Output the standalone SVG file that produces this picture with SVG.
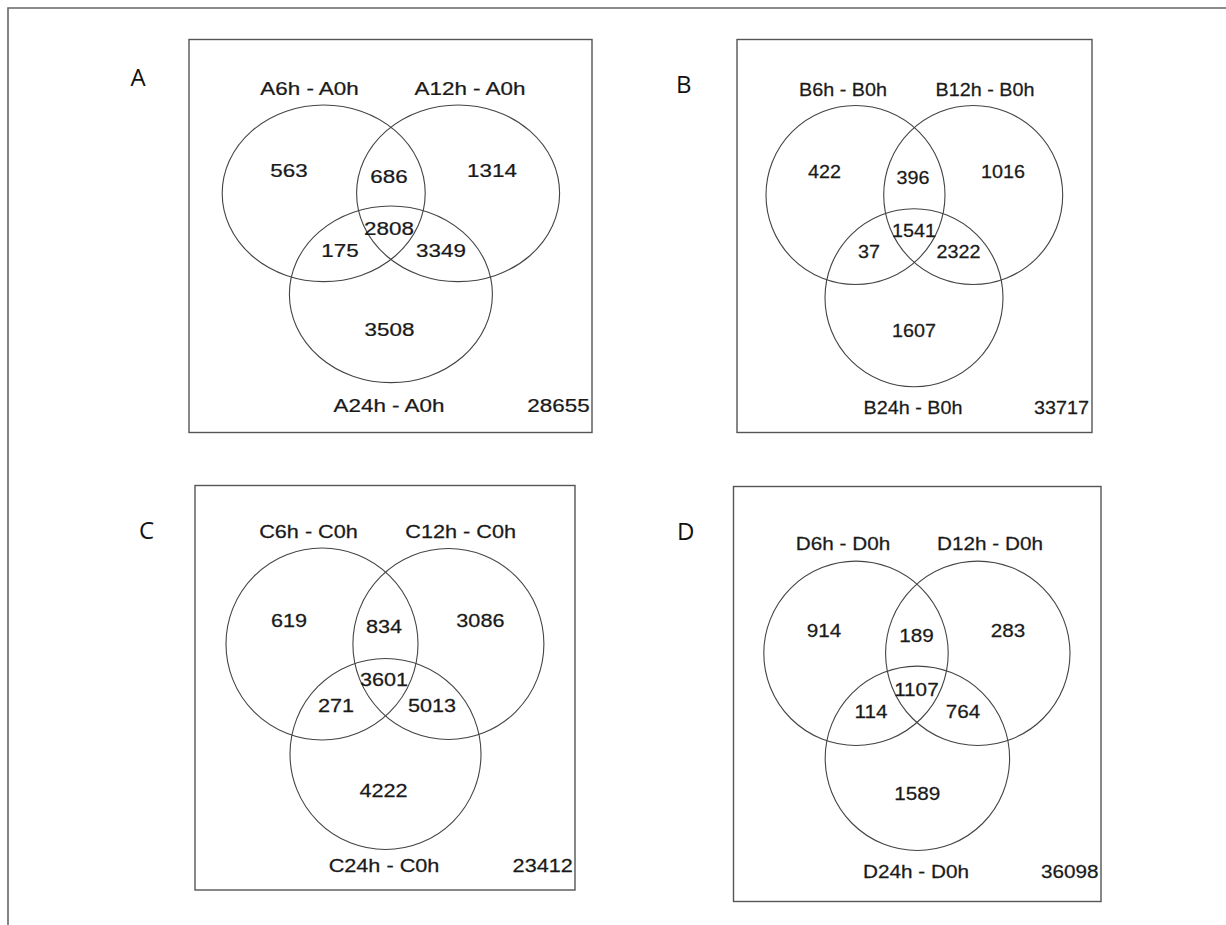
<svg xmlns="http://www.w3.org/2000/svg" width="1226" height="925" viewBox="0 0 1226 925">
<style>
.frame{fill:none;stroke:#666;stroke-width:1.6}
.box{fill:none;stroke:#555;stroke-width:1.4}
.c{fill:none;stroke:#444;stroke-width:1.1}
.t{font-family:"Liberation Sans",Arial,Helvetica,sans-serif;font-size:19px;fill:#1a1a1a;stroke:#1a1a1a;stroke-width:0.25;text-anchor:middle}
.L{font-family:"Open Sans","Noto Sans",sans-serif;font-size:24px;fill:#111}
</style>
<rect width="1226" height="925" fill="#fff"/>
<path class="frame" d="M8,925 V8 H1226"/>

<g id="panelA">
<rect class="box" x="189" y="39.5" width="403" height="393"/>
<text class="L" x="130.5" y="86">A</text>
<ellipse class="c" cx="323.7" cy="193.3" rx="101.5" ry="88.3"/>
<ellipse class="c" cx="458.1" cy="193.3" rx="101.5" ry="88.3"/>
<ellipse class="c" cx="390.9" cy="294.3" rx="101.5" ry="88.3"/>
<text class="t" transform="translate(309.5,95) scale(1.18,1)">A6h - A0h</text>
<text class="t" transform="translate(470,95) scale(1.18,1)">A12h - A0h</text>
<text class="t" transform="translate(289,177) scale(1.18,1)">563</text>
<text class="t" transform="translate(389,182.7) scale(1.18,1)">686</text>
<text class="t" transform="translate(492,177) scale(1.18,1)">1314</text>
<text class="t" transform="translate(389,235) scale(1.18,1)">2808</text>
<text class="t" transform="translate(340,256.7) scale(1.18,1)">175</text>
<text class="t" transform="translate(441,256.7) scale(1.18,1)">3349</text>
<text class="t" transform="translate(389.5,335.7) scale(1.18,1)">3508</text>
<text class="t" transform="translate(389,412.3) scale(1.18,1)">A24h - A0h</text>
<text class="t" transform="translate(558.5,412.3) scale(1.18,1)">28655</text>
</g>

<g id="panelB">
<rect class="box" x="737" y="39.5" width="355" height="393"/>
<text class="L" x="676" y="93">B</text>
<circle class="c" cx="855.5" cy="195" r="89.5"/>
<circle class="c" cx="973.2" cy="195" r="89.5"/>
<circle class="c" cx="914" cy="297.8" r="89"/>
<text class="t" transform="translate(843,95.7) scale(1.04,1)">B6h - B0h</text>
<text class="t" transform="translate(985,95.7) scale(1.04,1)">B12h - B0h</text>
<text class="t" transform="translate(824.5,178.3) scale(1.04,1)">422</text>
<text class="t" transform="translate(913,184.3) scale(1.04,1)">396</text>
<text class="t" transform="translate(1003,178.3) scale(1.04,1)">1016</text>
<text class="t" transform="translate(914,236.7) scale(1.04,1)">1541</text>
<text class="t" transform="translate(869,258.3) scale(1.04,1)">37</text>
<text class="t" transform="translate(958.5,258.3) scale(1.04,1)">2322</text>
<text class="t" transform="translate(914,337.3) scale(1.04,1)">1607</text>
<text class="t" transform="translate(913,414) scale(1.04,1)">B24h - B0h</text>
<text class="t" transform="translate(1061.5,414) scale(1.04,1)">33717</text>
</g>

<g id="panelC">
<rect class="box" x="195" y="485.5" width="380" height="404.5"/>
<text class="L" x="139" y="539">C</text>
<circle class="c" cx="322" cy="644" r="96"/>
<circle class="c" cx="448.4" cy="644" r="95.5"/>
<circle class="c" cx="385.5" cy="754" r="95.5"/>
<text class="t" transform="translate(308.5,537.7) scale(1.14,1)">C6h - C0h</text>
<text class="t" transform="translate(460.7,537.7) scale(1.14,1)">C12h - C0h</text>
<text class="t" transform="translate(289,626.7) scale(1.14,1)">619</text>
<text class="t" transform="translate(384,632.7) scale(1.14,1)">834</text>
<text class="t" transform="translate(480.4,626.7) scale(1.14,1)">3086</text>
<text class="t" transform="translate(384,685.7) scale(1.14,1)">3601</text>
<text class="t" transform="translate(336,712.3) scale(1.14,1)">271</text>
<text class="t" transform="translate(432,712.3) scale(1.14,1)">5013</text>
<text class="t" transform="translate(383.5,797.3) scale(1.14,1)">4222</text>
<text class="t" transform="translate(384,872) scale(1.14,1)">C24h - C0h</text>
<text class="t" transform="translate(542.7,872) scale(1.14,1)">23412</text>
</g>

<g id="panelD">
<rect class="box" x="733.5" y="486.5" width="367.5" height="415"/>
<text class="L" x="677" y="540">D</text>
<circle class="c" cx="856" cy="653.3" r="92.2"/>
<circle class="c" cx="977.8" cy="653.3" r="92.2"/>
<circle class="c" cx="917.4" cy="758.3" r="92.2"/>
<text class="t" transform="translate(843,550) scale(1.09,1)">D6h - D0h</text>
<text class="t" transform="translate(990,550) scale(1.09,1)">D12h - D0h</text>
<text class="t" transform="translate(824,636.7) scale(1.09,1)">914</text>
<text class="t" transform="translate(916.4,642.3) scale(1.09,1)">189</text>
<text class="t" transform="translate(1008,636.7) scale(1.09,1)">283</text>
<text class="t" transform="translate(916.4,696) scale(1.09,1)">1107</text>
<text class="t" transform="translate(871,718.3) scale(1.09,1)">114</text>
<text class="t" transform="translate(963,718.3) scale(1.09,1)">764</text>
<text class="t" transform="translate(917.3,800) scale(1.09,1)">1589</text>
<text class="t" transform="translate(916,878.3) scale(1.09,1)">D24h - D0h</text>
<text class="t" transform="translate(1069.7,878.3) scale(1.09,1)">36098</text>
</g>
</svg>
